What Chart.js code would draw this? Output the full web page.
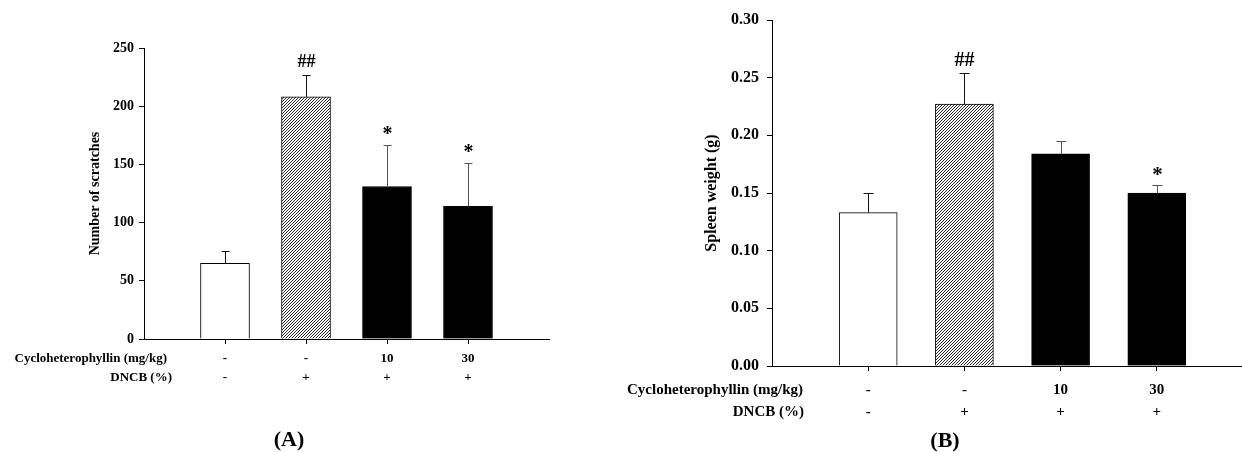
<!DOCTYPE html>
<html>
<head>
<meta charset="utf-8">
<script src="https://cdn.jsdelivr.net/npm/chart.js@4"></script>
<style>
html,body{margin:0;padding:0;background:#fff;overflow:hidden;width:1242px;height:452px;}
#wrapA{position:absolute;left:0;top:0;width:600px;height:452px;}
#wrapB{position:absolute;left:600px;top:0;width:660px;height:452px;}
</style>
</head>
<body>
<div id="wrapA"><canvas id="chartA" width="600" height="452"></canvas></div>
<div id="wrapB"><canvas id="chartB" width="660" height="452"></canvas></div>
<script>
// ---- data ----
const groups = [1, 2, 3, 4];
const doseLabels = ['-', '-', '10', '30'];
const dncbLabels = ['-', '+', '+', '+'];
const scratches = [65, 208, 131, 114];
const scratchesErr = [11, 19, 36, 37];
const scratchMarks = ['', '##', '*', '*'];
const spleen = [0.133, 0.227, 0.184, 0.150];
const spleenErr = [0.017, 0.027, 0.011, 0.007];
const spleenMarks = ['', '##', '', '*'];
const ticksA = [0, 50, 100, 150, 200, 250];
const ticksB = [0, 0.05, 0.10, 0.15, 0.20, 0.25, 0.30];

const SERIF = '"Liberation Serif", "Times New Roman", serif';

function hatchPattern(ctx) {
  const c = document.createElement('canvas');
  c.width = 3; c.height = 3;
  const g = c.getContext('2d');
  g.fillStyle = '#fff'; g.fillRect(0, 0, 3, 3);
  g.fillStyle = '#2a2a2a';
  g.fillRect(2, 0, 1, 1); g.fillRect(1, 1, 1, 1); g.fillRect(0, 2, 1, 1);
  return ctx.createPattern(c, 'repeat');
}

function makeChart(id, cfg) {
  const canvas = document.getElementById(id);
  const ctx = canvas.getContext('2d');
  const pat = hatchPattern(ctx);
  const fills = ['#ffffff', pat, '#000000', '#000000'];
  const data = groups.map((g, i) => ({x: g, y: cfg.values[i]}));

  const overlay = {
    id: 'overlay_' + id,
    afterDatasetsDraw(chart) {
      const c = chart.ctx;
      const xs = chart.scales.x, ys = chart.scales.y;
      c.save();
      // error bars (upper only)
      groups.forEach((g, i) => {
        const px = Math.round(xs.getPixelForValue(g)) + 0.5;
        const top = ys.getPixelForValue(cfg.values[i] + cfg.errs[i]);
        const base = ys.getPixelForValue(cfg.values[i]);
        c.strokeStyle = i >= 2 ? '#555' : '#111';
        c.lineWidth = 1;
        c.beginPath();
        c.moveTo(px, base); c.lineTo(px, Math.round(top) + 0.5);
        c.moveTo(px - cfg.cap, Math.round(top) + 0.5); c.lineTo(px + cfg.cap, Math.round(top) + 0.5);
        c.stroke();
        // significance marks
        if (cfg.marks[i]) {
          c.fillStyle = '#000';
          c.textAlign = 'center';
          c.textBaseline = 'middle';
          const isStar = cfg.marks[i] === '*';
          c.font = 'bold ' + (isStar ? cfg.starSize : cfg.hashSize) + 'px ' + SERIF;
          c.fillText(cfg.marks[i], px, top - (isStar ? cfg.starGap : cfg.hashGap));
        }
      });
      // group labels
      const bottom = ys.getPixelForValue(0);
      c.fillStyle = '#000';
      c.font = 'bold ' + cfg.rowSize + 'px ' + SERIF;
      c.textBaseline = 'middle';
      c.textAlign = 'right';
      c.fillText('Cycloheterophyllin (mg/kg)', cfg.headRight1, bottom + cfg.row1);
      c.fillText('DNCB (%)', cfg.headRight2, bottom + cfg.row2);
      c.textAlign = 'center';
      groups.forEach((g, i) => {
        const px = xs.getPixelForValue(g);
        c.fillText(doseLabels[i], px, bottom + cfg.row1);
        c.fillText(dncbLabels[i], px, bottom + cfg.row2);
      });
      // y axis title
      c.save();
      c.translate(cfg.titleX, (ys.top + ys.bottom) / 2 + cfg.titleDy);
      c.rotate(-Math.PI / 2);
      c.textAlign = 'center';
      c.textBaseline = 'middle';
      c.font = 'bold ' + cfg.titleSize + 'px ' + SERIF;
      c.fillText(cfg.yTitle, 0, 0);
      c.restore();
      // panel letter
      c.font = 'bold ' + cfg.panelSize + 'px ' + SERIF;
      c.textAlign = 'center';
      c.textBaseline = 'middle';
      c.fillText('(' + cfg.panel + ')', cfg.panelX, cfg.panelY);
      c.restore();
    }
  };

  return new Chart(ctx, {
    type: 'bar',
    data: {
      datasets: [{
        data: data,
        backgroundColor: fills,
        borderColor: '#000',
        borderWidth: 1,
        borderSkipped: 'bottom',
        barThickness: cfg.barW
      }]
    },
    options: {
      responsive: false,
      animation: false,
      events: [],
      layout: {padding: {top: cfg.padTop, right: cfg.padRight, left: 0, bottom: 0}},
      plugins: {legend: {display: false}, tooltip: {enabled: false}},
      scales: {
        x: {
          type: 'linear',
          min: 0, max: 5,
          offset: false,
          afterBuildTicks(s) { s.ticks = groups.map(v => ({value: v})); },
          afterFit(s) { s.height = cfg.xHeight; },
          ticks: {display: false},
          grid: {display: true, offset: false, drawOnChartArea: false, drawTicks: true, tickLength: 5, color: '#000', lineWidth: 1},
          border: {display: true, color: '#000', width: 1}
        },
        y: {
          min: 0, max: cfg.yMax,
          afterBuildTicks(s) { s.ticks = cfg.yTicks.map(v => ({value: v})); },
          afterFit(s) { s.width = cfg.yWidth; },
          ticks: {
            color: '#000',
            padding: cfg.tickPad,
            font: {family: SERIF, size: cfg.tickSize, weight: 'bold'},
            callback: cfg.fmt
          },
          grid: {display: true, drawOnChartArea: false, drawTicks: true, tickLength: 5, color: '#000', lineWidth: 1},
          border: {display: true, color: '#000', width: 1}
        }
      }
    },
    plugins: [overlay]
  });
}

makeChart('chartA', {
  values: scratches, errs: scratchesErr, marks: scratchMarks,
  yMax: 250, yTicks: ticksA, fmt: v => String(v),
  padTop: 48, padRight: 51, xHeight: 113, yWidth: 144,
  barW: 49, cap: 4, tickSize: 14, tickPad: 5,
  hashSize: 18, hashGap: 12, starSize: 20, starGap: 10,
  rowSize: 13, row1: 20, row2: 39, headRight1: 167, headRight2: 172,
  titleX: 95, titleDy: 0, titleSize: 14, yTitle: 'Number of scratches',
  panel: 'A', panelSize: 22, panelX: 289, panelY: 440
});

makeChart('chartB', {
  values: spleen, errs: spleenErr, marks: spleenMarks,
  yMax: 0.30, yTicks: ticksB, fmt: v => Number(v).toFixed(2),
  padTop: 20, padRight: 7, xHeight: 86, yWidth: 172,
  barW: 58, cap: 5, tickSize: 16, tickPad: 8,
  hashSize: 20, hashGap: 12, starSize: 21, starGap: 9,
  rowSize: 15, row1: 24, row2: 46, headRight1: 203, headRight2: 204,
  titleX: 112, titleDy: 0, titleSize: 16, yTitle: 'Spleen weight (g)',
  panel: 'B', panelSize: 22, panelX: 345, panelY: 441
});
</script>
</body>
</html>
